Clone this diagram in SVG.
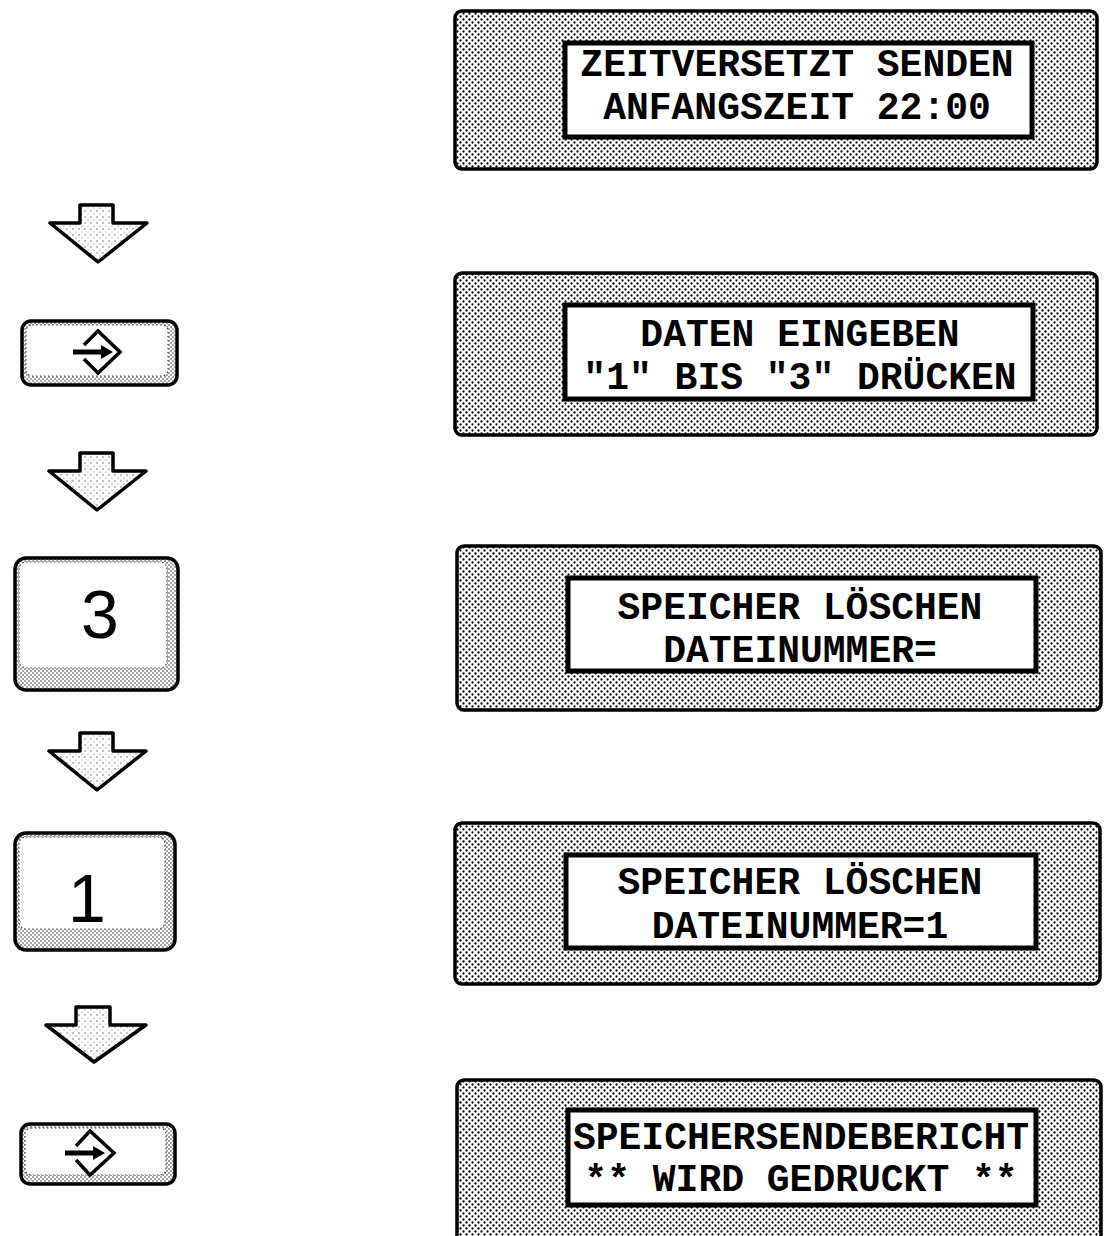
<svg xmlns="http://www.w3.org/2000/svg" width="1112" height="1236" viewBox="0 0 1112 1236">
<style>
.panel{fill:url(#ht);stroke:#000;stroke-width:3.5}
.screen{fill:#fff;stroke:#000;stroke-width:5}
.lcd{font-family:"Liberation Mono",monospace;font-weight:bold;font-size:38px;fill:#000;text-anchor:middle}
.key{fill:url(#kd);stroke:#000;stroke-width:3.5}
.face{fill:#fff;stroke:#444;stroke-width:1.2;stroke-dasharray:1.5 2.5}
.digit{font-family:"Liberation Sans",Arial,sans-serif;font-size:68px;fill:#000;text-anchor:middle}
.arrow{fill:url(#lt);stroke:#000;stroke-width:3.5;stroke-linejoin:round}
.sym{fill:none;stroke:#000;stroke-width:3.5;stroke-linejoin:miter}
.shaft{stroke:#000;stroke-width:5}
</style>
<defs>
<pattern id="ht" width="6" height="6" patternUnits="userSpaceOnUse">
<rect width="6" height="6" fill="#fff"/>
<circle cx="1.5" cy="1.5" r="1.15" fill="#000"/>
<circle cx="4.5" cy="4.5" r="1.15" fill="#000"/>
</pattern>
<pattern id="kd" width="4" height="4" patternUnits="userSpaceOnUse">
<rect width="4" height="4" fill="#fff"/>
<circle cx="1" cy="1" r="0.8" fill="#333"/>
<circle cx="3" cy="3" r="0.8" fill="#333"/>
</pattern>
<pattern id="lt" width="6" height="6" patternUnits="userSpaceOnUse">
<rect width="6" height="6" fill="#fff"/>
<circle cx="1" cy="1" r="0.7" fill="#555"/>
<circle cx="4" cy="4" r="0.6" fill="#777"/>
</pattern>
</defs>

<g id="display1">
<rect class="panel" x="455" y="11" width="642" height="158" rx="7"/>
<rect class="screen" x="565" y="43" width="467" height="94"/>
<text class="lcd" x="797" y="76">ZEITVERSETZT SENDEN</text>
<text class="lcd" x="797" y="119">ANFANGSZEIT 22:00</text>
</g>

<g id="display2">
<rect class="panel" x="455" y="273" width="642" height="162" rx="7"/>
<rect class="screen" x="565" y="305" width="468" height="94"/>
<text class="lcd" x="800" y="346">DATEN EINGEBEN</text>
<text class="lcd" x="800" y="389">"1" BIS "3" DRÜCKEN</text>
</g>

<g id="display3">
<rect class="panel" x="457" y="546" width="644" height="164" rx="7"/>
<rect class="screen" x="568" y="578" width="468" height="93"/>
<text class="lcd" x="800" y="619">SPEICHER LÖSCHEN</text>
<text class="lcd" x="800" y="662">DATEINUMMER=</text>
</g>

<g id="display4">
<rect class="panel" x="455" y="823" width="645" height="161" rx="7"/>
<rect class="screen" x="566" y="855" width="470" height="93"/>
<text class="lcd" x="800" y="894">SPEICHER LÖSCHEN</text>
<text class="lcd" x="800" y="938">DATEINUMMER=1</text>
</g>

<g id="display5">
<rect class="panel" x="457" y="1080" width="644" height="170" rx="7"/>
<rect class="screen" x="568" y="1110" width="468" height="95"/>
<text class="lcd" x="801" y="1149">SPEICHERSENDEBERICHT</text>
<text class="lcd" x="801" y="1191">** WIRD GEDRUCKT **</text>
</g>

<g id="key-enter-1">
<rect class="key" x="22" y="321" width="155" height="64" rx="9"/>
<rect class="face" x="26" y="325" width="142" height="51" rx="6"/>
<path class="sym" d="M84,345 L98,331 L120,352 L98,373 L84,359"/>
<line class="shaft" x1="73" y1="352" x2="104" y2="352"/>
<polygon points="101,345 113,352 101,359" fill="#000"/>
</g>

<g id="key-3">
<rect class="key" x="15" y="558" width="163" height="132" rx="11"/>
<rect class="face" x="19" y="562" width="148" height="106" rx="7"/>
<text class="digit" x="100" y="638">3</text>
</g>

<g id="key-1">
<rect class="key" x="15" y="833" width="160" height="117" rx="11"/>
<rect class="face" x="19" y="837" width="146" height="92" rx="7"/>
<text class="digit" x="87" y="922">1</text>
</g>

<g id="key-enter-2">
<rect class="key" x="21" y="1124" width="154" height="60" rx="9"/>
<rect class="face" x="25" y="1128" width="141" height="47" rx="6"/>
<path class="sym" d="M76,1146 L90,1131 L114,1153 L90,1175 L76,1160"/>
<line class="shaft" x1="65" y1="1153" x2="96" y2="1153"/>
<polygon points="93,1146 105,1153 93,1160" fill="#000"/>
</g>

<g id="connectors">
<polygon class="arrow" points="80,205 113,205 113,223 147,223 98,262 50,223 80,223"/>
<polygon class="arrow" points="80,453 113,453 113,471 146,471 97,510 49,471 80,471"/>
<polygon class="arrow" points="80,733 113,733 113,751 146,751 97,790 49,751 80,751"/>
<polygon class="arrow" points="76,1007 110,1007 110,1025 146,1025 94,1062 46,1025 76,1025"/>
</g>
</svg>
